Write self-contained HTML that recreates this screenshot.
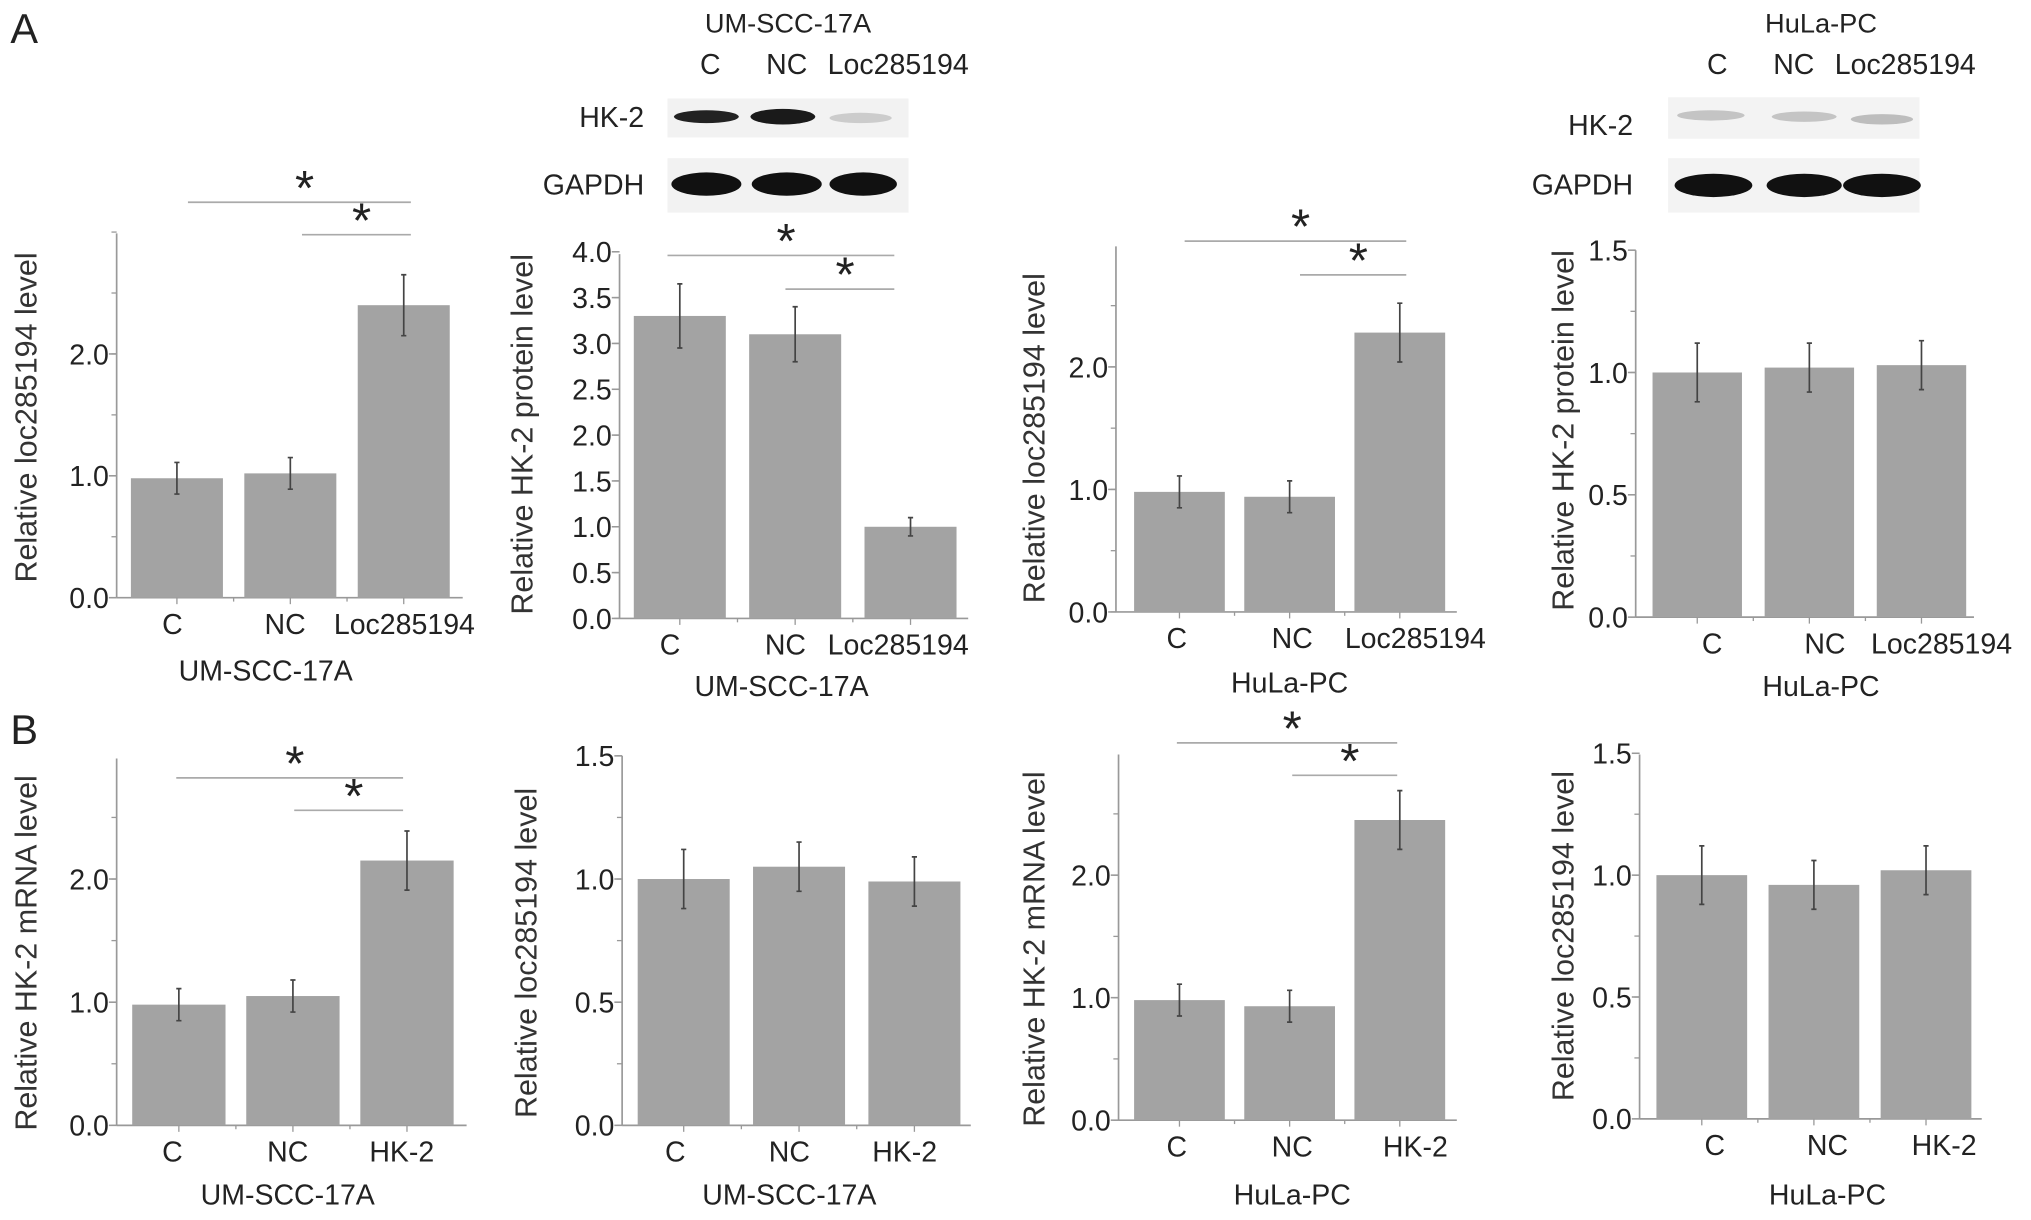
<!DOCTYPE html>
<html><head><meta charset="utf-8"><style>
html,body{margin:0;padding:0;background:#fff;}
svg{display:block;}
text{font-family:"Liberation Sans Narrow","Liberation Sans",sans-serif;fill:#222;}
.yt{font-family:"Liberation Sans",sans-serif;font-size:23.5px;fill:#333;}
</style></head><body>
<svg id="fig" width="2031" height="1220" viewBox="0 0 1567 941" preserveAspectRatio="none" xmlns="http://www.w3.org/2000/svg">
<text x="8" y="33" font-size="32">A</text>
<text x="8" y="574" font-size="32">B</text>
<g>
<text x="608" y="25" font-size="21" text-anchor="middle">UM-SCC-17A</text>
<text x="548" y="57" font-size="22" text-anchor="middle">C</text>
<text x="607" y="57" font-size="22" text-anchor="middle">NC</text>
<text x="693" y="57" font-size="22" text-anchor="middle">Loc285194</text>
<text x="497" y="98" font-size="22" text-anchor="end">HK-2</text>
<text x="497" y="150" font-size="22" text-anchor="end">GAPDH</text>
<rect x="515" y="76" width="186" height="30" fill="#f2f2f2"/>
<rect x="515" y="122" width="186" height="42" fill="#f2f2f2"/>
<ellipse cx="545" cy="90" rx="25" ry="5" fill="#222"/>
<ellipse cx="604" cy="90" rx="25" ry="6" fill="#1a1a1a"/>
<ellipse cx="664" cy="91" rx="24" ry="4" fill="#ccc"/>
<ellipse cx="545" cy="142" rx="27" ry="9" fill="#111"/>
<ellipse cx="607" cy="142" rx="27" ry="9" fill="#111"/>
<ellipse cx="666" cy="142" rx="26" ry="9" fill="#111"/>
</g>
<g>
<text x="1405" y="25" font-size="21" text-anchor="middle">HuLa-PC</text>
<text x="1325" y="57" font-size="22" text-anchor="middle">C</text>
<text x="1384" y="57" font-size="22" text-anchor="middle">NC</text>
<text x="1470" y="57" font-size="22" text-anchor="middle">Loc285194</text>
<text x="1260" y="104" font-size="22" text-anchor="end">HK-2</text>
<text x="1260" y="150" font-size="22" text-anchor="end">GAPDH</text>
<rect x="1287" y="75" width="194" height="32" fill="#f3f3f3"/>
<rect x="1287" y="122" width="194" height="42" fill="#f3f3f3"/>
<ellipse cx="1320" cy="89" rx="26" ry="4" fill="#c4c4c4"/>
<ellipse cx="1392" cy="90" rx="25" ry="4" fill="#c4c4c4"/>
<ellipse cx="1452" cy="92" rx="24" ry="4" fill="#bdbdbd"/>
<ellipse cx="1322" cy="143" rx="30" ry="9" fill="#111"/>
<ellipse cx="1392" cy="143" rx="29" ry="9" fill="#111"/>
<ellipse cx="1452" cy="143" rx="30" ry="9" fill="#111"/>
</g>
</svg>
<script>
const catsLoc = ["C","NC","Loc285194"];
const catsHK = ["C","NC","HK-2"];
const a1Values = [0.98, 1.02, 2.40];
const a1Errors = [0.13, 0.13, 0.25];
const a2Values = [3.30, 3.10, 1.00];
const a2Errors = [0.35, 0.30, 0.10];
const a3Values = [0.98, 0.94, 2.28];
const a3Errors = [0.13, 0.13, 0.24];
const a4Values = [1.00, 1.02, 1.03];
const a4Errors = [0.12, 0.10, 0.10];
const b1Values = [0.98, 1.05, 2.15];
const b1Errors = [0.13, 0.13, 0.24];
const b2Values = [1.00, 1.05, 0.99];
const b2Errors = [0.12, 0.10, 0.10];
const b3Values = [0.98, 0.93, 2.45];
const b3Errors = [0.13, 0.13, 0.24];
const b4Values = [1.00, 0.96, 1.02];
const b4Errors = [0.12, 0.10, 0.10];
const ticksInt = [0, 1, 2];
const ticksA2 = [0, 0.5, 1, 1.5, 2, 2.5, 3, 3.5, 4];
const ticksHalf = [0, 0.5, 1, 1.5];

const NS = "http://www.w3.org/2000/svg";
const svg = document.getElementById('fig');
function mk(tag, attrs, parent){const e=document.createElementNS(NS,tag);for(const k in attrs)e.setAttribute(k,attrs[k]);(parent||svg).appendChild(e);return e;}

function drawPanel(p){
  const g = mk('g',{});
  
  
  const y = v => p.y0 - v * p.unit;
  const ya = mk('line',{x1:p.ax,y1:p.top,x2:p.ax,y2:p.y0,stroke:'#999','stroke-width':1.3},g);
  
  
  const xa = mk('line',{x1:p.ax,y1:p.y0,x2:p.end,y2:p.y0,stroke:'#999','stroke-width':1.3},g);
  
  
  for(let v=0; v<=p.max+1e-9; v+=p.minor){
    mk('line',{x1:p.ax-4,y1:y(v),x2:p.ax,y2:y(v),stroke:'#999','stroke-width':1},g);
  }
  p.ticks.forEach(t=>{
    mk('line',{x1:p.ax-6,y1:y(t),x2:p.ax,y2:y(t),stroke:'#999','stroke-width':1.2},g);
    const tl = mk('text',{x:p.ax-6,y:y(t)+8,'font-size':22,'text-anchor':'end'},g);
    tl.textContent = t.toFixed(1);
    
    
  });
  p.values.forEach((v,i)=>{
    const x = p.left + i*p.step, cx = x + p.w/2;
    const b = mk('rect',{x:x,y:y(v),width:p.w,height:p.y0-y(v),fill:'#a3a3a3'},g);
    
    
    const e = p.errors[i];
    const eb = mk('path',{d:`M${cx},${y(v+e)}V${y(v-e)}M${cx-2},${y(v+e)}H${cx+2}M${cx-2},${y(v-e)}H${cx+2}`,stroke:'#444','stroke-width':1.3,fill:'none'},g);
    
    
    mk('line',{x1:cx,y1:p.y0,x2:cx,y2:p.y0+5,stroke:'#999'},g);
    if(i>0) mk('line',{x1:x-(p.step-p.w)/2,y1:p.y0,x2:x-(p.step-p.w)/2,y2:p.y0+3,stroke:'#999'},g);
    const lab = mk('text',{x:p.labX[i],y:p.y0+28,'font-size':22,'text-anchor':'middle'},g);
    lab.textContent = p.cats[i];
    
    
  });
  const xt = mk('text',{x:p.xtX,y:p.xtY,'font-size':22,'text-anchor':'middle'},g);
  xt.textContent = p.xtitle;
  
  
  const yt = mk('text',{x:0,y:0,'class':'yt','text-anchor':'middle',transform:`translate(${p.ytX},${p.ytY}) rotate(-90)`},g);
  yt.textContent = p.ytitle;
  
  
  (p.sig||[]).forEach(s=>{
    const l = mk('line',{x1:s[0],y1:s[2],x2:s[1],y2:s[2],stroke:'#aaa','stroke-width':1.3},g);
    
    
    const st = mk('text',{x:(s[0]+s[1])/2+4,y:s[2]+2,'font-size':38,'text-anchor':'middle',fill:'#222'},g);
    st.textContent = '*';
    
    
  });
}

drawPanel({name:'chart-a1',ax:90,y0:461,unit:94,top:180,end:357,max:3,minor:0.5,ticks:ticksInt,values:a1Values,errors:a1Errors,cats:catsLoc,left:101,step:87.5,w:71,labX:[133,220,312],xtitle:'UM-SCC-17A',xtX:205,xtY:525,ytitle:'Relative loc285194 level',ytX:28,ytY:322,sig:[[145,317,156],[233,317,181]]});
drawPanel({name:'chart-a2',ax:478,y0:477,unit:70.7,top:196,end:747,max:4,minor:0.5,ticks:ticksA2,values:a2Values,errors:a2Errors,cats:catsLoc,left:489,step:89,w:71,labX:[517,606,693],xtitle:'UM-SCC-17A',xtX:603,xtY:537,ytitle:'Relative HK-2 protein level',ytX:411,ytY:335,sig:[[515,690,197],[606,690,223]]});
drawPanel({name:'chart-a3',ax:861,y0:472,unit:94.5,top:190,end:1124,max:2.9,minor:0.5,ticks:ticksInt,values:a3Values,errors:a3Errors,cats:catsLoc,left:875,step:85,w:70,labX:[908,997,1092],xtitle:'HuLa-PC',xtX:995,xtY:534,ytitle:'Relative loc285194 level',ytX:806,ytY:338,sig:[[914,1085,186],[1003,1085,212]]});
drawPanel({name:'chart-a4',ax:1262,y0:476,unit:188.7,top:193,end:1523,max:1.5,minor:0.25,ticks:ticksHalf,values:a4Values,errors:a4Errors,cats:catsLoc,left:1275,step:86.5,w:69,labX:[1321,1408,1498],xtitle:'HuLa-PC',xtX:1405,xtY:537,ytitle:'Relative HK-2 protein level',ytX:1214,ytY:332});
drawPanel({name:'chart-b1',ax:90,y0:868,unit:95,top:585,end:360,max:2.9,minor:0.5,ticks:ticksInt,values:b1Values,errors:b1Errors,cats:catsHK,left:102,step:88,w:72,labX:[133,222,310],xtitle:'UM-SCC-17A',xtX:222,xtY:929,ytitle:'Relative HK-2 mRNA level',ytX:28,ytY:735,sig:[[136,311,600],[227,311,625]]});
drawPanel({name:'chart-b2',ax:480,y0:868,unit:190,top:583,end:749,max:1.5,minor:0.25,ticks:ticksHalf,values:b2Values,errors:b2Errors,cats:catsHK,left:492,step:89,w:71,labX:[521,609,698],xtitle:'UM-SCC-17A',xtX:609,xtY:929,ytitle:'Relative loc285194 level',ytX:414,ytY:735});
drawPanel({name:'chart-b3',ax:863,y0:864,unit:94.5,top:582,end:1124,max:2.9,minor:0.5,ticks:ticksInt,values:b3Values,errors:b3Errors,cats:catsHK,left:875,step:85,w:70,labX:[908,997,1092],xtitle:'HuLa-PC',xtX:997,xtY:929,ytitle:'Relative HK-2 mRNA level',ytX:806,ytY:732,sig:[[908,1078,573],[997,1078,598]]});
drawPanel({name:'chart-b4',ax:1265,y0:863,unit:188,top:582,end:1529,max:1.5,minor:0.25,ticks:ticksHalf,values:b4Values,errors:b4Errors,cats:catsHK,left:1278,step:86.5,w:70,labX:[1323,1410,1500],xtitle:'HuLa-PC',xtX:1410,xtY:929,ytitle:'Relative loc285194 level',ytX:1214,ytY:722});
</script>
</body></html>
